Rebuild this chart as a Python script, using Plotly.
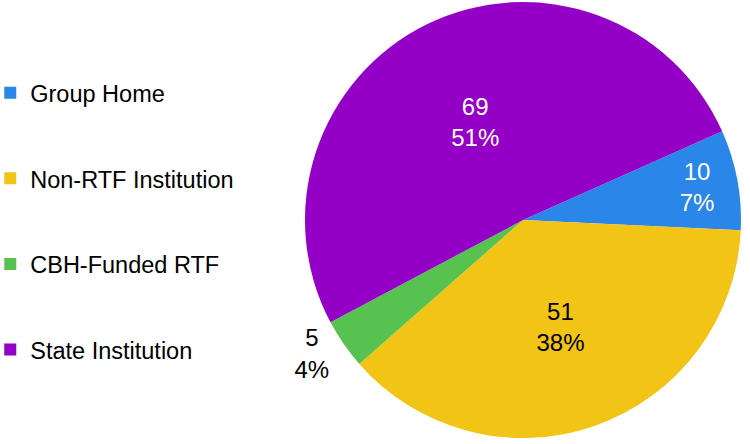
import plotly.graph_objects as go

categories = ["Group Home", "Non-RTF Institution", "CBH-Funded RTF", "State Institution"]
values = [10, 51, 5, 69]
colors = ["#2A86E8", "#F2C415", "#58C251", "#9400C6"]
text_colors = ["white", "black", "black", "white"]
text_positions = ["inside", "inside", "outside", "inside"]

FONT = "Liberation Sans, Arial, sans-serif"

fig = go.Figure()
fig.add_trace(go.Pie(
    labels=categories,
    values=values,
    sort=False,
    direction="clockwise",
    rotation=66,
    marker=dict(colors=colors, line=dict(width=0)),
    texttemplate="%{value}<br>%{percent:.0%}",
    textposition=text_positions,
    insidetextorientation="horizontal",
    textfont=dict(family=FONT, size=24, color=text_colors),
    outsidetextfont=dict(family=FONT, size=24, color="black"),
    insidetextfont=dict(family=FONT, size=24, color=text_colors),
    domain=dict(x=[305 / 750, 741 / 750], y=[6 / 444, 442 / 444]),
    showlegend=False,
    hoverinfo="label+value+percent",
))

for i, (cat, col) in enumerate(zip(categories, colors)):
    fig.add_trace(go.Scatter(
        x=[None], y=[None], mode="markers",
        marker=dict(symbol="square", size=12, color=col),
        name=cat, legendgroup=f"g{i}", showlegend=True,
    ))

fig.update_layout(
    width=750, height=444,
    margin=dict(l=0, r=0, t=0, b=0, autoexpand=False),
    paper_bgcolor="white", plot_bgcolor="white",
    xaxis=dict(visible=False), yaxis=dict(visible=False),
    legend=dict(
        x=-0.013, y=0.840, xanchor="left", yanchor="top",
        font=dict(family=FONT, size=23.5, color="black"),
        tracegroupgap=52, itemwidth=30,
        bgcolor="rgba(0,0,0,0)",
    ),
)

fig.write_html(
    "out.html",
    config={"displayModeBar": False},
    post_script="document.body.style.margin='0';",
)
